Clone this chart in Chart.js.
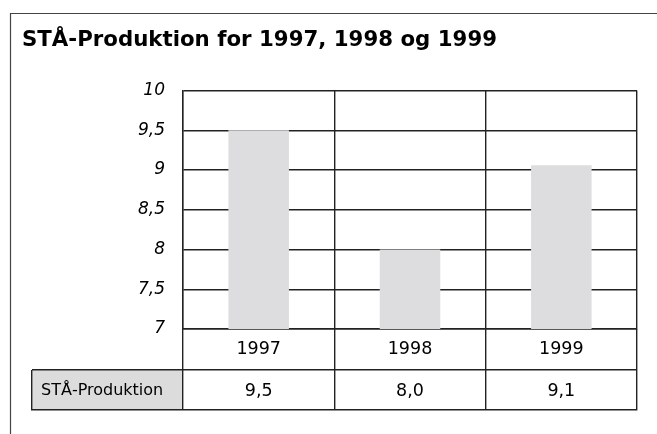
<!DOCTYPE html>
<html>
<head>
<meta charset="utf-8">
<script src="https://cdn.jsdelivr.net/npm/chart.js@4.4.1/dist/chart.umd.min.js"></script>
<style>
  html, body { margin: 0; padding: 0; background: #fff; }
  canvas { display: block; }
</style>
</head>
<body>
<canvas id="sta-chart" width="657" height="434"></canvas>
<script>
// data
const years = ['1997', '1998', '1999'];
const staProduktion = [9.5, 8.0, 9.06];
const seriesLabel = 'STÅ-Produktion';
const chartTitle = 'STÅ-Produktion for 1997, 1998 og 1999';
const yMin = 7;
const yMax = 10;
const yStep = 0.5;

const lineColor = '#222';
const lineW = 1.4;
const fontFamily = "'DejaVu Sans', Verdana, sans-serif";

const fmt = (v, digits) => (digits === undefined ? String(v) : v.toFixed(digits)).replace('.', ',');
// same pixel snapping chart.js uses for its grid lines
const snap = (p) => Math.round(p - lineW / 2) + lineW / 2;

// outer frame + data table under the x axis
const frameAndTable = {
    id: 'frameAndTable',
    beforeDraw(chart) {
        const ctx = chart.ctx;
        ctx.save();
        ctx.strokeStyle = '#444';
        ctx.lineWidth = 1.2;
        ctx.beginPath();
        ctx.moveTo(10.5, chart.height);
        ctx.lineTo(10.5, 13.5);
        ctx.lineTo(chart.width, 13.5);
        ctx.stroke();
        ctx.restore();
    },
    afterDraw(chart) {
        const { ctx, chartArea, scales: { x } } = chart;
        const step = x.getPixelForValue(1) - x.getPixelForValue(0);
        const rowTop = chartArea.bottom + 41;
        const rowBottom = x.bottom;
        const tableLeft = 32;

        ctx.save();
        // legend cell
        ctx.fillStyle = '#dcdcdc';
        ctx.fillRect(tableLeft, rowTop, chartArea.left - tableLeft, rowBottom - rowTop);

        ctx.strokeStyle = lineColor;
        ctx.lineWidth = lineW;
        ctx.beginPath();
        // horizontal lines
        ctx.moveTo(tableLeft, snap(rowTop));
        ctx.lineTo(snap(chartArea.right) + 0.7, snap(rowTop));
        ctx.moveTo(tableLeft, snap(rowBottom));
        ctx.lineTo(snap(chartArea.right) + 0.7, snap(rowBottom));
        // legend cell left edge
        ctx.moveTo(snap(tableLeft), rowTop);
        ctx.lineTo(snap(tableLeft), snap(rowBottom) + 0.7);
        // category boundaries down through the table
        for (let i = 0; i <= years.length; i++) {
            const px = snap(x.getPixelForValue(i) - step / 2);
            ctx.moveTo(px, chartArea.bottom);
            ctx.lineTo(px, snap(rowBottom) + 0.7);
        }
        ctx.stroke();

        ctx.fillStyle = '#000';
        ctx.textBaseline = 'middle';
        const midY = (rowTop + rowBottom) / 2 + 1;
        ctx.font = '16px ' + fontFamily;
        ctx.textAlign = 'left';
        ctx.fillText(seriesLabel, tableLeft + 9, midY);

        ctx.font = '17.5px ' + fontFamily;
        ctx.textAlign = 'center';
        staProduktion.forEach((v, i) => {
            ctx.fillText(fmt(v, 1), x.getPixelForValue(i), midY);
        });
        ctx.restore();
    }
};

const ctx = document.getElementById('sta-chart').getContext('2d');
const chart = new Chart(ctx, {
    type: 'bar',
    data: {
        labels: years,
        datasets: [
            {
                label: seriesLabel,
                data: staProduktion,
                backgroundColor: '#dddde0',
                borderWidth: 0,
                barPercentage: 0.4,
                categoryPercentage: 1.0
            }
        ]
    },
    options: {
        responsive: false,
        animation: false,
        devicePixelRatio: 1,
        layout: {
            padding: { left: 22, right: 20, top: 0, bottom: 24 }
        },
        plugins: {
            legend: { display: false },
            tooltip: { enabled: false },
            title: {
                display: true,
                text: chartTitle,
                align: 'start',
                color: '#000',
                font: { family: fontFamily, size: 21.3, weight: 'bold' },
                padding: { top: 28, bottom: 37 }
            }
        },
        scales: {
            x: {
                position: 'bottom',
                grid: { offset: true, color: lineColor, lineWidth: lineW, drawTicks: false },
                border: { display: true, color: lineColor, width: lineW },
                ticks: {
                    color: '#000',
                    font: { family: fontFamily, size: 17.5 },
                    padding: 10
                },
                afterFit(scale) { scale.height = 81; }
            },
            y: {
                min: yMin,
                max: yMax,
                grid: { color: lineColor, lineWidth: lineW, drawTicks: false },
                border: { display: true, color: lineColor, width: lineW },
                ticks: {
                    stepSize: yStep,
                    color: '#000',
                    padding: 18,
                    font: { family: fontFamily, size: 17, style: 'italic' },
                    callback: (v) => fmt(v)
                },
                afterFit(scale) { scale.width = 161; }
            }
        }
    },
    plugins: [frameAndTable]
});
</script>
</body>
</html>
